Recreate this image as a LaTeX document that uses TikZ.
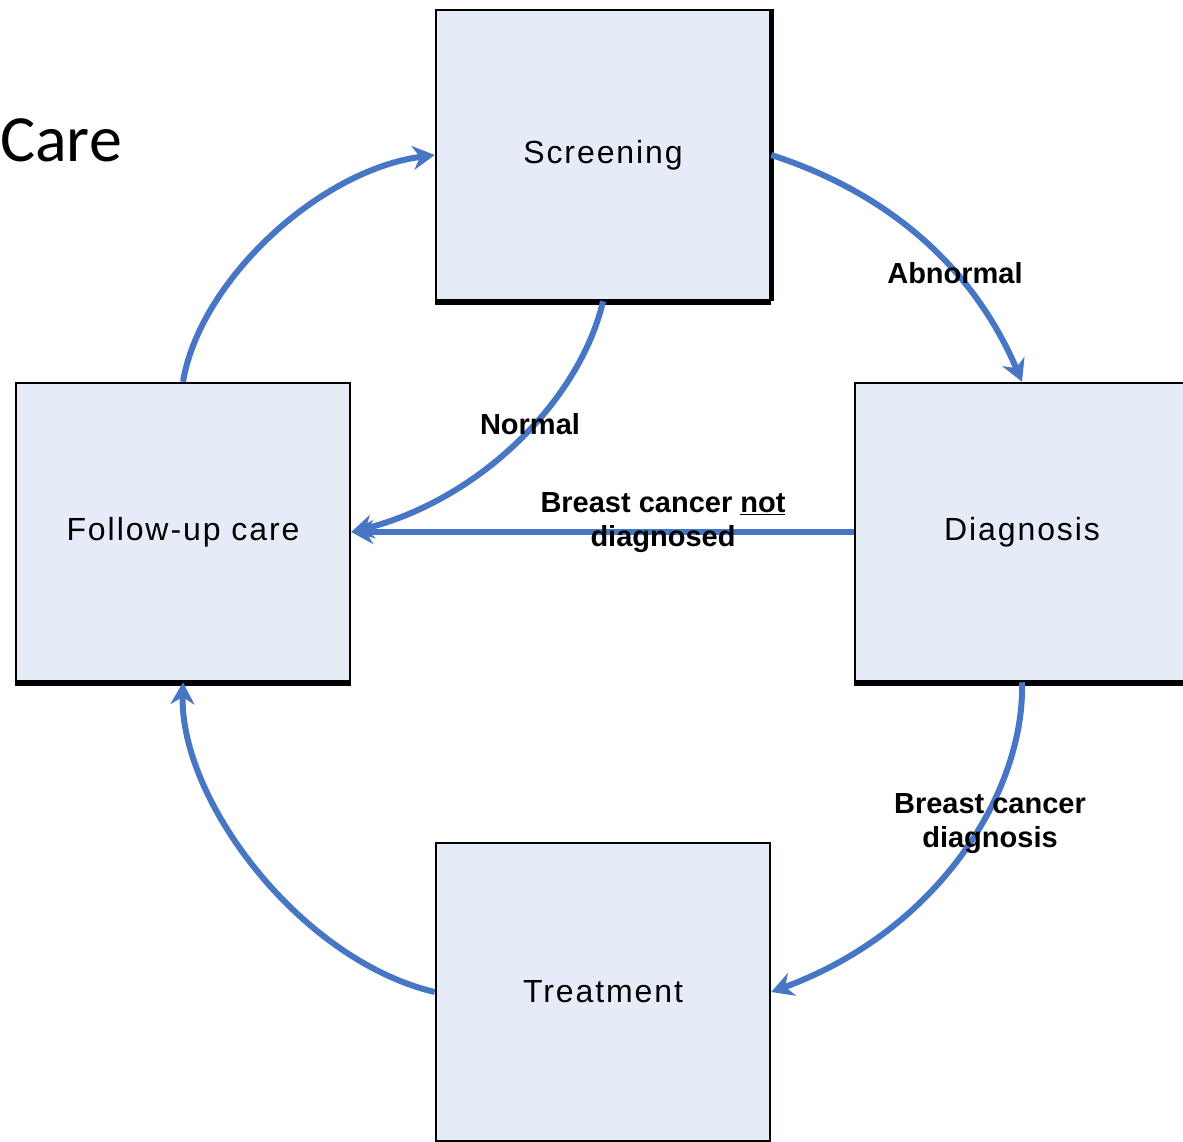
\documentclass[tikz,border=0pt]{standalone}
\usepackage{fontspec}
\setmainfont{Liberation Sans}
\newfontfamily\titlefont{Carlito}
\usetikzlibrary{arrows.meta}
\definecolor{boxfill}{RGB}{230,236,247}
\definecolor{arrowblue}{RGB}{70,118,196}
\begin{document}
\begin{tikzpicture}[x=1pt,y=-1pt,
  stagebox/.style={draw=black,line width=2.5pt,fill=boxfill,minimum width=334pt,minimum height=298pt,inner sep=0pt,
    font=\fontsize{32}{38}\selectfont\addfontfeatures{LetterSpace=6}},
  flow/.style={draw=arrowblue,line width=6pt,-{Stealth[length=22pt,width=24pt]}},
  flowlabel/.style={font=\fontsize{29}{34}\selectfont\bfseries,align=center,inner sep=0pt}]
\useasboundingbox (0,0) rectangle (1183,1141);
\clip (0,0) rectangle (1183,1141);
\fill[white] (0,0) rectangle (1183,1141);
% title fragment
\node[anchor=base west,inner sep=0pt,font=\titlefont\fontsize{66}{72}\selectfont] (title) at (0,161) {Care};
% boxes
\node[stagebox,minimum height=290pt] (scr) at (603,155) {Screening};
\node[stagebox] (fol) at (183,532) {Follow-up care};
\node[stagebox] (dia) at (1022,532) {Diagnosis};
\node[stagebox] (tre) at (603,992) {Treatment};
% shadow on bottom edges
\foreach \n in {scr,fol,dia,tre}{
  \draw[line width=5pt] ([yshift=-1.5pt]\n.south west) -- ([yshift=-1.5pt]\n.south east);
}
\draw[line width=4pt] ([xshift=1pt]scr.north east) -- ([xshift=1pt]scr.south east);
% connectors
\draw[flow] (scr.east) .. controls (880,190) and (970,260) .. (dia.north);
\draw[flow] (dia.south) .. controls (1025,790) and (940,930) .. (tre.east);
\draw[flow] (tre.west) .. controls (300,960) and (180,800) .. (fol.south);
\draw[flow] (fol.north) .. controls (200,280) and (320,170) .. (scr.west);
\draw[flow] (scr.south) .. controls (580,400) and (480,500) .. (fol.east);
\draw[flow] (dia.west) -- (fol.east);
% labels
\node[flowlabel] (labA) at (955,273) {Abnormal};
\node[flowlabel] (labN) at (530,424) {Normal};
\node[flowlabel] (labB) at (663,523) {Breast cancer \underline{not}\\diagnosed};
\node[flowlabel] (labD) at (990,824) {Breast cancer\\diagnosis};
\end{tikzpicture}
\end{document}
